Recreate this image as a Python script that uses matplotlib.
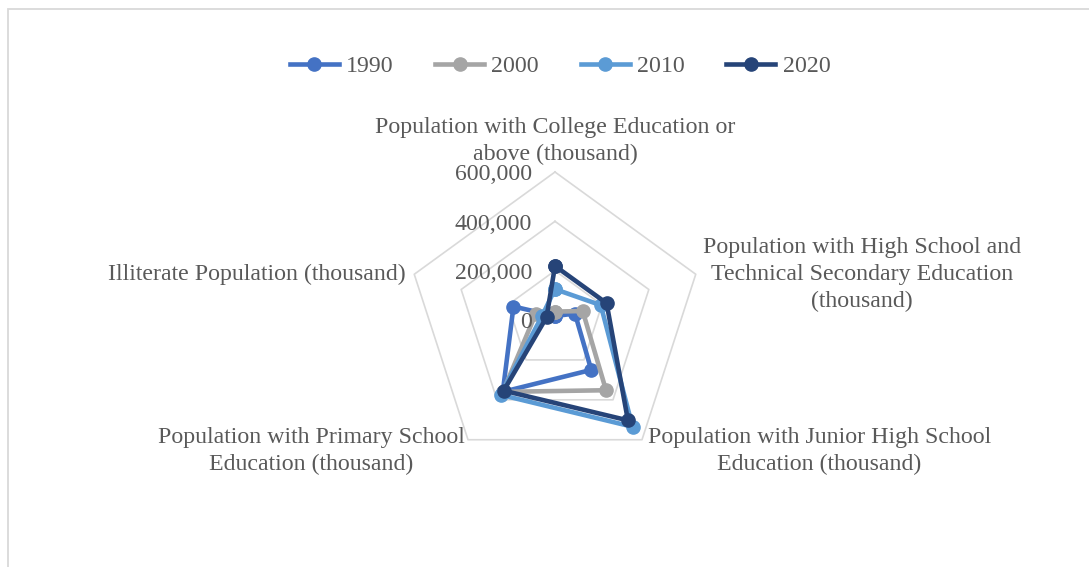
import numpy as np
import matplotlib.pyplot as plt
from matplotlib.patches import Rectangle

plt.rcParams['font.family'] = ['Liberation Serif', 'DejaVu Serif']

# education levels (thousand people), clockwise from the top
categories = [
    'Population with College Education or\nabove (thousand)',
    'Population with High School and\nTechnical Secondary Education\n(thousand)',
    'Population with Junior High School\nEducation (thousand)',
    'Population with Primary School\nEducation (thousand)',
    'Illiterate Population (thousand)',
]
years = ['1990', '2000', '2010', '2020']
pop_1990 = [16000, 85000, 250000, 360000, 177000]
pop_2000 = [34000, 118000, 352000, 360000, 82000]
pop_2010 = [125000, 195000, 535000, 375000, 55000]
pop_2020 = [219000, 220000, 503000, 354000, 36000]
rings = [0, 200000, 400000, 600000]

colors = ['#4472C4', '#A5A5A5', '#5B9BD5', '#264478']
text_col = '#595959'
grid_col = '#D9D9D9'
FS = 17.2

W, H = 1089, 567
fig = plt.figure(figsize=(W / 100, H / 100), dpi=100)
fig.patch.set_facecolor('white')
fig.add_artist(Rectangle((8 / W, -0.1), 1.2, 1.1 - 9 / H, transform=fig.transFigure,
                         fill=False, edgecolor=grid_col, lw=1.3))

cx, cy, R = 555, 320, 148
ax = fig.add_axes([(cx - R) / W, (H - cy - R) / H, 2 * R / W, 2 * R / H], projection='polar')
ax.set_theta_offset(np.pi / 2)
ax.set_theta_direction(-1)
ax.set_ylim(0, rings[-1])
ax.grid(False)
ax.set_xticks([])
ax.set_yticks([])
ax.spines['polar'].set_visible(False)
ax.patch.set_alpha(0)

n = len(categories)
theta = np.linspace(0, 2 * np.pi, n, endpoint=False)
theta_c = np.append(theta, theta[0])

# pentagon gridlines
for r in rings[1:]:
    ax.plot(theta_c, [r] * (n + 1), color=grid_col, lw=1.2, zorder=1, clip_on=False)

for yr, vals, c in zip(years, [pop_1990, pop_2000, pop_2010, pop_2020], colors):
    v = np.append(vals, vals[0])
    ax.plot(theta_c, v, color=c, lw=3.3, marker='o', ms=9.5, label=yr,
            zorder=3, clip_on=False, solid_joinstyle='round')

# radial tick labels along the top spoke
for r in rings:
    ax.annotate(f'{r:,}', xy=(0, r), xytext=(-23, -3), textcoords='offset pixels',
                ha='right', va='center', fontsize=FS, color=text_col)

# category labels around the outer ring
offsets = [((0, 31), 'center', 'center'),
           ((7, 0), 'left', 'center'),
           ((6, -11), 'left', 'center'),
           ((-3, -11), 'right', 'center'),
           ((-9, 0), 'right', 'center')]
for t, lab, (off, ha, va) in zip(theta, categories, offsets):
    ax.annotate(lab, xy=(t, rings[-1]), xytext=off, textcoords='offset pixels',
                ha=ha, va=va, multialignment='center', fontsize=FS,
                color=text_col, linespacing=1.38, annotation_clip=False)

leg = fig.legend(loc='center', bbox_to_anchor=(560 / W, 1 - 66 / H), ncol=4,
                 frameon=False, fontsize=FS, handlelength=2.05, handletextpad=0.3,
                 columnspacing=1.75, labelcolor=text_col)

fig.savefig('out.png', dpi=100, facecolor='white')
